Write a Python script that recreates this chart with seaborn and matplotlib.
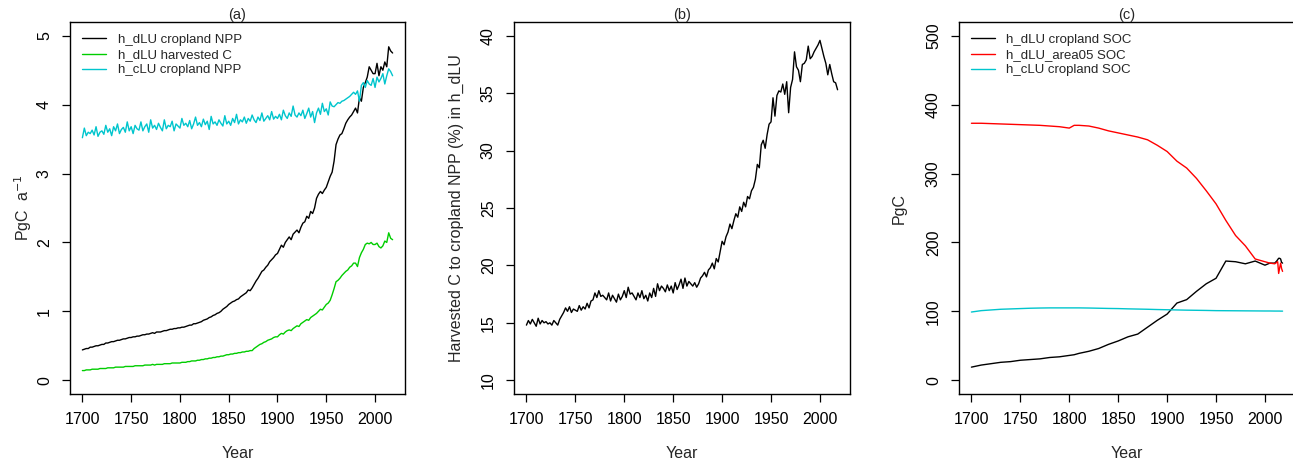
import numpy as np
import pandas as pd
import matplotlib
matplotlib.use("Agg")
import matplotlib.pyplot as plt
import seaborn as sns

# ---------------- data ----------------
years2 = list(range(1700, 2019, 2))  # 2-year steps 1700..2018

a_dlu_npp = [
    0.44, 0.45, 0.46, 0.46, 0.48, 0.48, 0.49, 0.50, 0.50, 0.51,
    0.52, 0.52, 0.54, 0.54, 0.55, 0.56, 0.56, 0.57, 0.58, 0.58,
    0.59, 0.60, 0.60, 0.61, 0.62, 0.62, 0.63, 0.63, 0.64, 0.64,
    0.65, 0.66, 0.66, 0.67, 0.67, 0.68, 0.69, 0.68, 0.70, 0.70,
    0.70, 0.71, 0.72, 0.72, 0.73, 0.74, 0.74, 0.75, 0.75, 0.76,
    0.76, 0.77, 0.77, 0.78, 0.79, 0.80, 0.80, 0.82, 0.82, 0.83,
    0.84, 0.85, 0.87, 0.88, 0.89, 0.91, 0.92, 0.94, 0.95, 0.97,
    0.98, 1.00, 1.03, 1.05, 1.07, 1.10, 1.12, 1.14, 1.15, 1.17,
    1.18, 1.21, 1.23, 1.25, 1.27, 1.31, 1.30, 1.34, 1.39, 1.44,
    1.48, 1.53, 1.58, 1.60, 1.64, 1.67, 1.72, 1.75, 1.78, 1.82,
    1.84, 1.90, 1.96, 1.93, 2.00, 2.04, 2.08, 2.04, 2.12, 2.15,
    2.18, 2.14, 2.22, 2.28, 2.30, 2.38, 2.35, 2.45, 2.42, 2.50,
    2.64, 2.70, 2.74, 2.71, 2.76, 2.80, 2.88, 2.96, 3.02, 3.18,
    3.42, 3.50, 3.56, 3.58, 3.65, 3.73, 3.78, 3.82, 3.85, 3.90,
    3.95, 3.88, 4.10, 4.05, 4.25, 4.32, 4.40, 4.55, 4.50, 4.45,
    4.45, 4.60, 4.42, 4.55, 4.50, 4.62, 4.55, 4.84, 4.78, 4.75,
]

a_dlu_harv = [
    0.14, 0.14, 0.15, 0.15, 0.15, 0.16, 0.16, 0.16, 0.16, 0.17,
    0.17, 0.17, 0.17, 0.18, 0.18, 0.18, 0.18, 0.19, 0.19, 0.19,
    0.19, 0.19, 0.20, 0.20, 0.20, 0.20, 0.20, 0.21, 0.21, 0.21,
    0.21, 0.21, 0.22, 0.22, 0.22, 0.22, 0.23, 0.22, 0.23, 0.23,
    0.23, 0.23, 0.24, 0.24, 0.24, 0.24, 0.25, 0.25, 0.25, 0.25,
    0.25, 0.26, 0.26, 0.26, 0.27, 0.27, 0.28, 0.28, 0.28, 0.29,
    0.29, 0.30, 0.30, 0.31, 0.31, 0.32, 0.32, 0.33, 0.33, 0.34,
    0.34, 0.35, 0.35, 0.36, 0.37, 0.37, 0.38, 0.38, 0.39, 0.39,
    0.40, 0.40, 0.41, 0.41, 0.42, 0.42, 0.43, 0.43, 0.46, 0.48,
    0.50, 0.52, 0.53, 0.55, 0.56, 0.58, 0.59, 0.60, 0.62, 0.63,
    0.63, 0.66, 0.68, 0.67, 0.70, 0.72, 0.73, 0.72, 0.75, 0.77,
    0.79, 0.78, 0.82, 0.84, 0.86, 0.88, 0.87, 0.91, 0.93, 0.95,
    0.97, 1.00, 1.03, 1.02, 1.06, 1.10, 1.12, 1.16, 1.24, 1.33,
    1.43, 1.45, 1.48, 1.52, 1.55, 1.58, 1.60, 1.64, 1.66, 1.70,
    1.70, 1.65, 1.78, 1.85, 1.90, 1.97, 1.99, 1.98, 2.00, 1.97,
    1.97, 1.99, 1.94, 1.92, 1.95, 2.02, 2.00, 2.14, 2.06, 2.04,
]

a_clu_npp = [
    3.52, 3.66, 3.55, 3.60, 3.58, 3.63, 3.56, 3.68, 3.54, 3.60,
    3.62, 3.57, 3.70, 3.60, 3.65, 3.55, 3.68, 3.62, 3.72, 3.58,
    3.64, 3.67, 3.60, 3.75, 3.62, 3.68, 3.58, 3.70, 3.65, 3.63,
    3.75, 3.62, 3.68, 3.72, 3.60, 3.78, 3.66, 3.70, 3.64, 3.73,
    3.67, 3.62, 3.78, 3.65, 3.70, 3.68, 3.76, 3.62, 3.72, 3.69,
    3.66, 3.80, 3.70, 3.73, 3.68, 3.77, 3.65, 3.72, 3.82, 3.70,
    3.74, 3.68, 3.79, 3.71, 3.76, 3.64, 3.83, 3.72, 3.75, 3.70,
    3.78, 3.73, 3.69, 3.84, 3.72, 3.76, 3.70, 3.80, 3.74, 3.86,
    3.72, 3.78, 3.75, 3.82, 3.73, 3.80, 3.76, 3.85, 3.78, 3.74,
    3.82, 3.77, 3.88, 3.76, 3.80, 3.84, 3.78, 3.90, 3.79, 3.83,
    3.80, 3.86, 3.78, 3.92, 3.84, 3.80, 3.88, 3.83, 3.98, 3.85,
    3.82, 3.88, 3.84, 3.92, 3.80, 3.87, 3.95, 3.82, 3.90, 3.74,
    3.88, 3.95, 3.86, 4.02, 3.90, 3.94, 3.85, 4.04, 3.98, 3.97,
    4.00, 4.03, 4.02, 4.05, 4.06, 4.08, 4.10, 4.12, 4.15, 4.18,
    4.15, 4.20, 4.05, 4.28, 4.32, 4.25, 4.35, 4.30, 4.28, 4.38,
    4.25, 4.40, 4.33, 4.38, 4.45, 4.30, 4.42, 4.52, 4.48, 4.42,
]

b_ratio = [
    14.8, 15.2, 14.9, 15.3, 15.0, 14.7, 15.4, 14.9, 15.2, 15.0,
    15.1, 14.9, 15.0, 14.8, 15.2, 15.0, 14.8, 15.3, 15.6, 15.9,
    16.3, 16.0, 16.4, 15.9, 16.2, 16.1, 16.0, 16.5, 16.1, 16.4,
    16.2, 16.7, 16.3, 16.9, 17.0, 17.6, 17.2, 17.8, 17.3, 17.4,
    17.2, 17.0, 17.6, 16.9, 17.4, 17.1, 16.8, 17.5, 17.0, 17.3,
    17.8, 17.2, 18.1, 17.5, 17.6, 17.3, 17.0, 17.6, 17.2, 17.8,
    17.1, 17.4, 16.9, 17.6, 17.2, 18.0, 17.3, 18.4, 17.8, 18.2,
    18.0, 17.7, 18.3, 17.8, 18.2, 17.6, 18.5, 17.9, 18.3, 18.8,
    18.0, 18.9, 18.2, 18.6, 18.4, 18.2, 18.5, 18.1, 18.4, 18.9,
    19.1, 19.4, 19.0, 19.6, 19.8, 20.2, 19.7, 20.6, 20.3, 21.2,
    22.1, 21.8, 22.5, 22.9, 23.6, 23.2, 23.9, 24.5, 24.2, 25.1,
    24.7, 25.5, 25.1, 26.0, 25.8, 26.5, 26.8, 27.5, 28.8, 28.5,
    30.5, 30.9, 30.2, 31.4, 32.3, 32.5, 34.6, 33.0, 34.8, 35.2,
    35.1, 35.8, 34.9, 36.0, 33.3, 35.5, 36.2, 38.6, 37.3, 37.0,
    36.0, 37.5, 37.6, 37.9, 39.1, 38.0, 38.2, 38.6, 38.9, 39.2,
    39.6, 38.9, 38.2, 37.6, 36.6, 37.5, 36.7, 36.0, 35.9, 35.3,
]

c_years = [1700, 1710, 1720, 1730, 1740, 1750, 1760, 1770, 1780, 1790,
           1800, 1805, 1810, 1820, 1830, 1840, 1850, 1860, 1870, 1880,
           1890, 1900, 1910, 1920, 1930, 1940, 1950, 1960, 1970, 1980,
           1990, 2000, 2005, 2010, 2012, 2013, 2014, 2015, 2016, 2017, 2018]
c_dlu_soc = [19, 22, 24, 26, 27, 29, 30, 31, 33, 34,
             36, 37, 39, 42, 46, 52, 57, 63, 67, 77,
             87, 96, 112, 117, 129, 140, 148, 173, 172, 169,
             173, 167, 170, 170, 173, 175, 177, 177, 176, 171, 170]
c_area05_soc = [373, 373, 372.5, 372, 371.5, 371, 370.5, 370, 369, 368,
                366, 370, 370, 369, 366, 362, 359, 356, 353, 349,
                341, 332, 318, 308, 293, 275, 256, 232, 210, 195,
                176, 172, 170, 169, 171, 172, 155, 163, 170, 162, 158]
c_clu_soc = [99, 101, 102, 103, 103.5, 104, 104.5, 104.8, 105, 105,
             105, 105, 105, 104.8, 104.5, 104.2, 104, 103.6, 103.3, 103,
             102.6, 102.3, 102, 101.7, 101.5, 101.3, 101, 100.9, 100.8, 100.7,
             100.6, 100.5, 100.5, 100.4, 100.4, 100.4, 100.4, 100.4, 100.3, 100.3, 100.3]

x_ticks = [1700, 1750, 1800, 1850, 1900, 1950, 2000]

# ---------------- styling ----------------
sns.set_style("ticks")
plt.rcParams["font.family"] = ["Liberation Sans", "DejaVu Sans"]
plt.rcParams["axes.linewidth"] = 1.0

BLACK = "black"
GREEN = "#00CD00"
CYAN = "#00C5CD"
RED = "#FF0000"
LW = 1.0

fig = plt.figure(figsize=(12.93, 4.66), dpi=100)
W, H = 1293.0, 466.0

def make_ax(left_px, right_px):
    return fig.add_axes([left_px / W, (H - 394) / H, (right_px - left_px) / W, (394 - 22) / H])

ax_a = make_ax(70, 405)
ax_b = make_ax(514, 850)
ax_c = make_ax(959, 1295)

def style(ax, ylim, yticks, title, ylabel, ylabelpad):
    ax.set_xlim(1687.3, 2030.7)
    ax.set_ylim(*ylim)
    ax.set_xticks(x_ticks)
    ax.set_yticks(yticks)
    ax.tick_params(axis="both", direction="out", length=6, width=0.9,
                   labelsize=11.5, colors="black", pad=7)
    for lab in ax.get_yticklabels():
        lab.set_rotation(90)
        lab.set_va("center")
    for s in ax.spines.values():
        s.set_visible(True)
        s.set_color("black")
        s.set_linewidth(1.0)
    ax.set_title(title, fontsize=10.5, pad=2)
    ax.set_xlabel("Year", fontsize=11.5, labelpad=14)
    ax.set_ylabel(ylabel, fontsize=11.5, labelpad=ylabelpad)

def legend(ax):
    ax.legend(loc="upper left", frameon=False, fontsize=9.5, handlelength=1.85,
              handletextpad=0.85, labelspacing=0.22, borderaxespad=0.5,
              bbox_to_anchor=(0.0, 1.0))

# ---- panel (a)
df_a = pd.DataFrame({
    "Year": years2 * 3,
    "value": a_dlu_npp + a_dlu_harv + a_clu_npp,
    "series": (["h_dLU cropland NPP"] * len(years2) + ["h_dLU harvested C"] * len(years2)
               + ["h_cLU cropland NPP"] * len(years2)),
})
sns.lineplot(data=df_a, x="Year", y="value", hue="series",
             palette={"h_dLU cropland NPP": BLACK, "h_dLU harvested C": GREEN,
                      "h_cLU cropland NPP": CYAN},
             linewidth=LW, ax=ax_a, legend=True)
style(ax_a, (-0.2, 5.2), [0, 1, 2, 3, 4, 5], "(a)", r"PgC  a$^{-1}$", 2)
legend(ax_a)

# ---- panel (b)
df_b = pd.DataFrame({"Year": years2, "value": b_ratio})
sns.lineplot(data=df_b, x="Year", y="value", color=BLACK, linewidth=LW, ax=ax_b)
style(ax_b, (8.8, 41.2), [10, 15, 20, 25, 30, 35, 40], "(b)",
      "Harvested C to cropland NPP (%) in h_dLU", 12)

# ---- panel (c)
df_c = pd.DataFrame({
    "Year": c_years * 3,
    "value": c_dlu_soc + c_area05_soc + c_clu_soc,
    "series": (["h_dLU cropland SOC"] * len(c_years) + ["h_dLU_area05 SOC"] * len(c_years)
               + ["h_cLU cropland SOC"] * len(c_years)),
})
sns.lineplot(data=df_c, x="Year", y="value", hue="series",
             palette={"h_dLU cropland SOC": BLACK, "h_dLU_area05 SOC": RED,
                      "h_cLU cropland SOC": CYAN},
             linewidth=LW, ax=ax_c, legend=True)
style(ax_c, (-20, 520), [0, 100, 200, 300, 400, 500], "(c)", "PgC", 14)
legend(ax_c)

fig.savefig("out.png", dpi=100)
